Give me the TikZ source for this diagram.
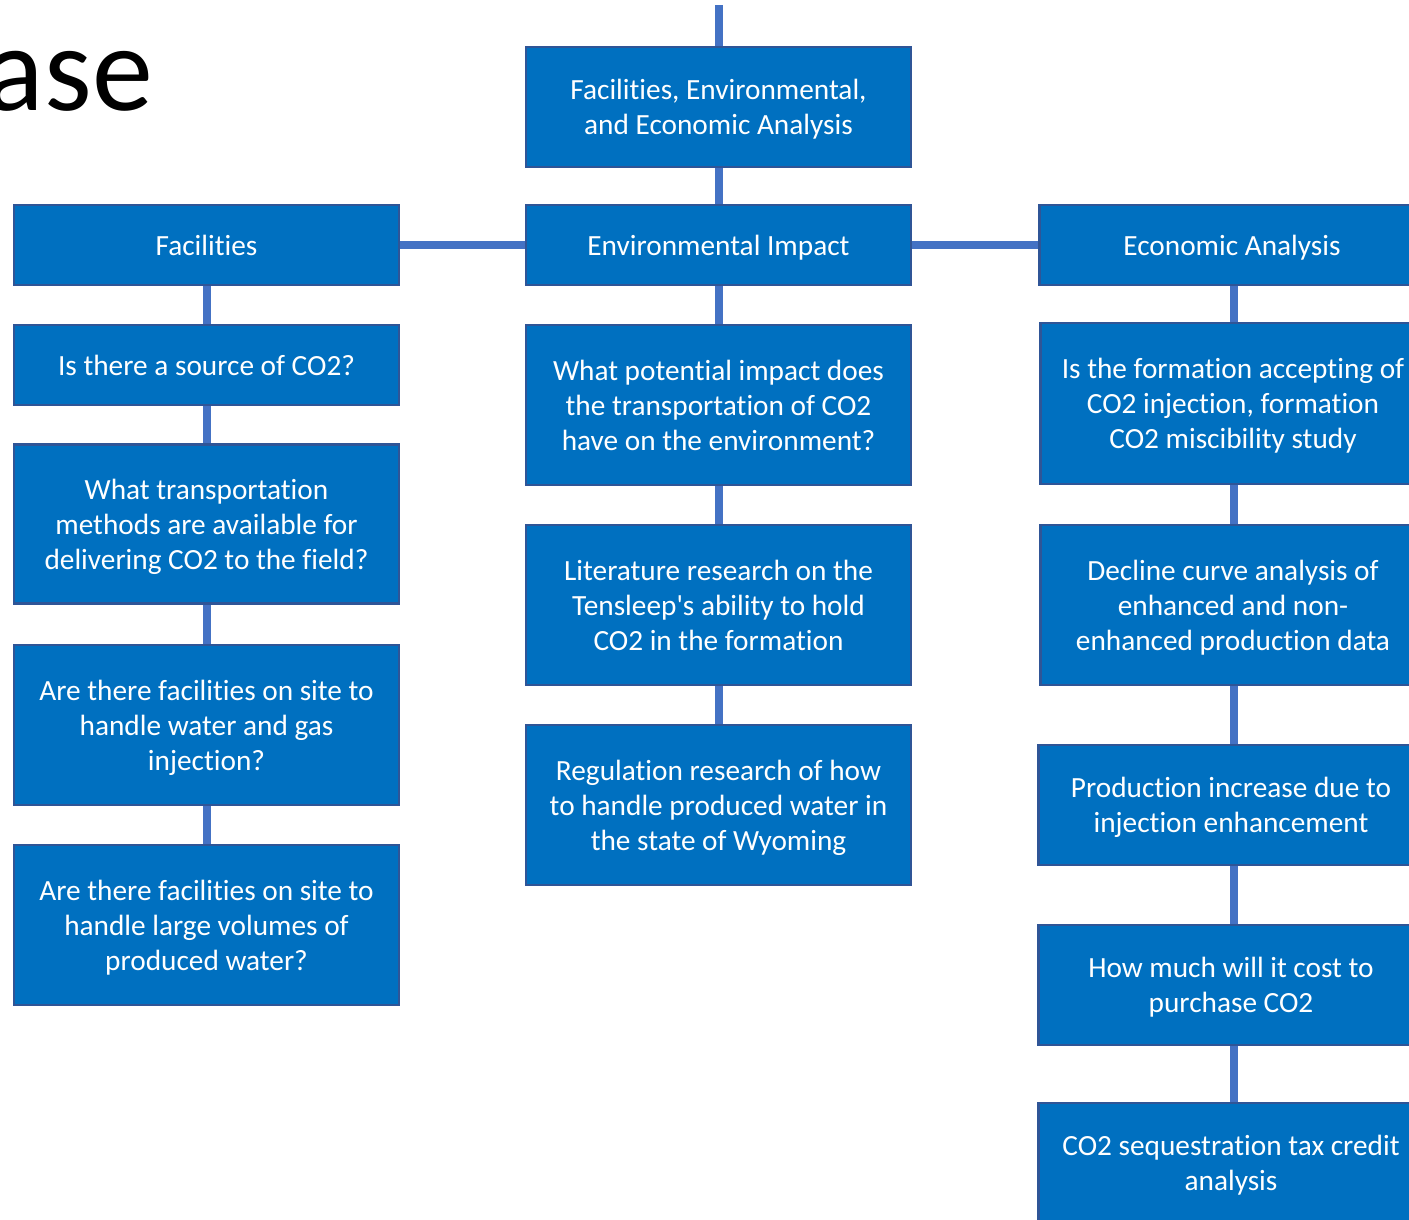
\documentclass[tikz,border=0pt]{standalone}
\usepackage{fontspec}
\setmainfont{Carlito}[Ligatures={NoCommon,TeXOff}]
\definecolor{boxfill}{HTML}{0070C0}
\definecolor{boxline}{HTML}{2F5597}
\definecolor{conn}{HTML}{4472C4}
\begin{document}
\begin{tikzpicture}[x=1pt,y=-1pt,
  box/.style={draw=boxline,line width=2.5pt,fill=boxfill,text=white,
    minimum width=385pt,align=center,inner sep=0pt,
    font=\fontsize{29.3}{35}\selectfont,
    execute at end node={\rule[-8pt]{0pt}{8pt}}},
  lines1/.style={box,execute at begin node={\rule{0pt}{28pt}}},
  lines2/.style={box,execute at begin node={\rule{0pt}{63pt}}},
  lines3/.style={box,execute at begin node={\rule{0pt}{98pt}}},
  h80/.style={minimum height=80pt},
  h120/.style={minimum height=120pt},
  h160/.style={minimum height=160pt},
  link/.style={draw=conn,line width=8pt}]
\useasboundingbox (0,0) rectangle (1409,1219);
\fill[white] (0,0) rectangle (1409,1219);
\node[anchor=base east,inner sep=0pt,font=\fontsize{122}{140}\selectfont] (title) at (153,110) {ase};
% left column
\node[lines1,h80] (fac) at (206.5,245) {Facilities};
\node[lines1,h80] (l1) at (206.5,365) {Is there a source of CO2?};
\node[lines3,minimum height=159pt] (l2) at (206.5,524) {What transportation\\methods are available for\\delivering CO2 to the field?};
\node[lines3,h160] (l3) at (206.5,725) {Are there facilities on site to\\handle water and gas\\injection?};
\node[lines3,h160] (l4) at (206.5,925) {Are there facilities on site to\\handle large volumes of\\produced water?};
% middle column
\coordinate (topend) at (718.5,5);
\node[lines2,h120] (top) at (718.5,107) {Facilities, Environmental,\\and Economic Analysis};
\node[lines1,h80] (env) at (718.5,245) {Environmental Impact};
\node[lines3,h160] (m1) at (718.5,405) {What potential impact does\\the transportation of CO2\\have on the environment?};
\node[lines3,h160] (m2) at (718.5,605) {Literature research on the\\Tensleep's ability to hold\\CO2 in the formation};
\node[lines3,h160] (m3) at (718.5,805) {Regulation research of how\\to handle produced water in\\the state of Wyoming};
% right column
\node[lines1,h80] (econ) at (1232,245) {Economic Analysis};
\node[lines3,minimum height=161pt] (r1) at (1233,403.5) {Is the formation accepting of\\CO2 injection, formation\\CO2 miscibility study};
\node[lines3,h160] (r2) at (1233,605) {Decline curve analysis of\\enhanced and non-\\enhanced production data};
\node[lines2,h120] (r3) at (1231,805) {Production increase due to\\injection enhancement};
\node[lines2,h120] (r4) at (1231,985) {How much will it cost to\\purchase CO2};
\node[lines2,h120] (r5) at (1231,1163) {CO2 sequestration tax credit\\analysis};
% connectors
\path[link] (topend) -- (top.north);
\path[link] (top.south) -- (env.north);
\path[link] (fac.east) -- (env.west);
\path[link] (env.east) -- (econ.west);
\path[link] (fac.south) -- (l1.north);
\path[link] (l1.south) -- (l2.north);
\path[link] (l2.south) -- (l3.north);
\path[link] (l3.south) -- (l4.north);
\path[link] (env.south) -- (m1.north);
\path[link] (m1.south) -- (m2.north);
\path[link] (m2.south) -- (m3.north);
\path[link] ([xshift=2pt]econ.south) -- ([xshift=1pt]r1.north);
\path[link] ([xshift=1pt]r1.south) -- ([xshift=1pt]r2.north);
\path[link] ([xshift=1pt]r2.south) -- ([xshift=3pt]r3.north);
\path[link] ([xshift=3pt]r3.south) -- ([xshift=3pt]r4.north);
\path[link] ([xshift=3pt]r4.south) -- ([xshift=3pt]r5.north);
\end{tikzpicture}
\end{document}
